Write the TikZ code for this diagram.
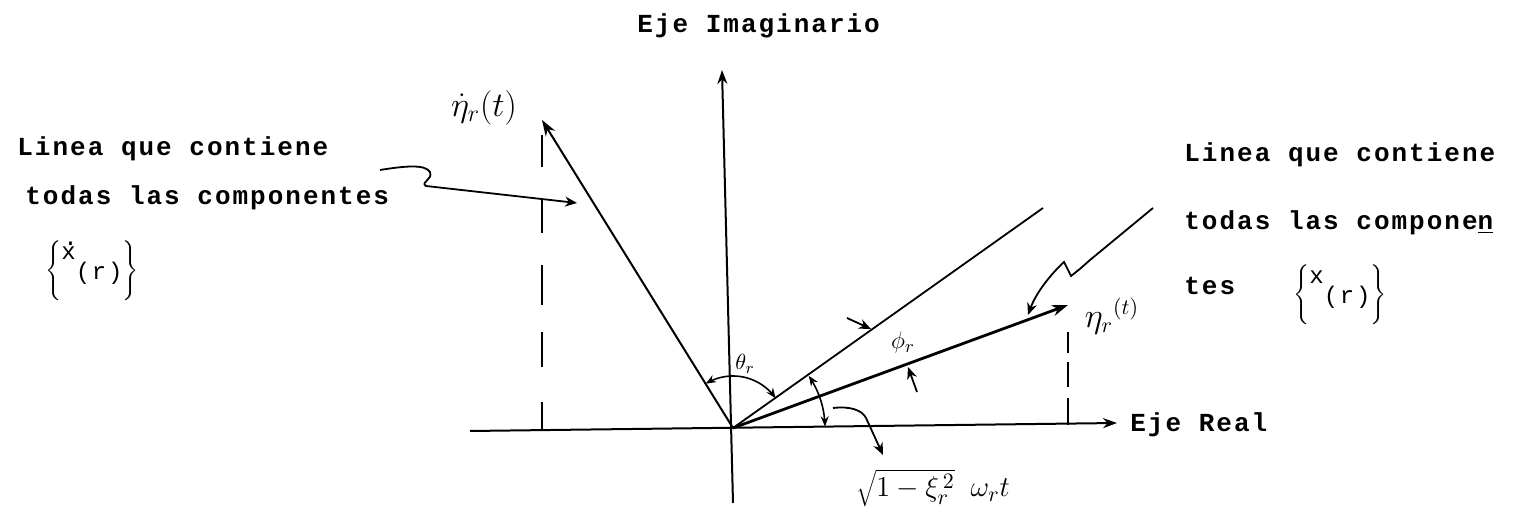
\documentclass[tikz,border=0pt]{standalone}
\usepackage{fontspec}
\setmonofont{Liberation Mono}
\newfontfamily\tw[LetterSpace=7.7]{Liberation Mono}
\usetikzlibrary{arrows.meta}
\newcommand\compset[1]{$\Bigg\{$\raisebox{8pt}{\tw\fontsize{12pt}{14pt}\selectfont #1}\raisebox{-2pt}{\tw\fontsize{12pt}{14pt}\selectfont(r)}$\Bigg\}$}
\begin{document}
\begin{tikzpicture}[x=0.5pt,y=-0.5pt,
  tw/.style={font=\tw\bfseries\fontsize{13pt}{15pt}\selectfont, anchor=base west, inner sep=0pt},
  hand/.style={font=\fontsize{18pt}{20pt}\selectfont, inner sep=0pt},
  axisline/.style={line width=1pt, -{Stealth[length=7pt,width=5pt]}},
  ray/.style={line width=0.9pt},
  vec/.style={line width=1pt, -{Stealth[length=8pt,width=5.5pt]}},
  proj/.style={line width=1.1pt},
  pointer/.style={line width=0.9pt, -{Stealth[length=6pt,width=5pt]}},
  angarrow/.style={line width=0.8pt, {Stealth[length=5pt,width=4pt]}-{Stealth[length=5pt,width=4pt]}},
]
\useasboundingbox (0,0) rectangle (1515,517);
% key points
\coordinate (O) at (733,428);
\coordinate (Xl) at (470,431);
\coordinate (Xr) at (1117,423);
\coordinate (Yb) at (733,503);
\coordinate (Yt) at (722,70);
\coordinate (A) at (542,120);
\coordinate (B) at (1068,305);
\coordinate (C) at (1043,208);
% axes
\draw[axisline] (Xl) -- (Xr);
\draw[axisline] (Yb) -- (Yt);
% rays and vectors
\draw[ray] (O) -- (C);
\draw[vec] (O) -- (A);
\draw[vec, line width=1.4pt] (O) -- (B);
% projection dashes
\draw[proj] (542,135)--(542,167) (542,198)--(542,233) (542,265)--(542,305) (542,332)--(542,367) (542,402)--(542,431);
\draw[proj] (1068,332)--(1068,353) (1068,362)--(1068,387) (1068,398)--(1068,425);
% angle markers
\draw[angarrow, shift={(O)}] plot[domain=-35:-121.5, samples=25, smooth] (\x:52);
\draw[angarrow, shift={(O)}] plot[domain=-34.5:-1, samples=20, smooth] (\x:92);
\draw[pointer] (847,318) -- (871,329);
\draw[pointer] (917,392) -- (908,367);
% text
\node[tw] (eim) at (637,33) {Eje Imaginario};
\node[tw] (ere) at (1130,432) {Eje Real};
\node[tw] (l1) at (17,156) {Linea que contiene};
\node[tw] (l2) at (25,205) {todas las componentes};
\node[inner sep=0pt] (lx) at (92,271) {\compset{\makebox[0pt][l]{\raisebox{7pt}{\kern1pt.}}x}};
\node[tw] (r1) at (1184,162) {Linea que contiene};
\node[tw] (r2) at (1184,230) {todas las compone\underline{n}};
\node[tw] (r3) at (1184,295) {tes};
\node[inner sep=0pt] (rx) at (1340,295) {\compset{x}};
% handwritten labels
\node[hand] (la) at (484,108) {$\dot\eta_r(t)$};
\node[hand, font=\fontsize{16pt}{18pt}\selectfont] (lb) at (1112,316) {$\eta_r{}^{(t)}$};
\node[hand, font=\fontsize{11pt}{13pt}\selectfont] (lth) at (745,364) {$\theta_r$};
\node[hand, font=\fontsize{13pt}{15pt}\selectfont] (lph) at (903,343) {$\phi_r$};
\node[hand, font=\fontsize{15pt}{17pt}\selectfont] (lw) at (933,488) {$\sqrt{1-\xi_r^{\,2}}\;\;\omega_r t$};
% pointers
\coordinate (p1) at (380,170);
\coordinate (p1e) at (577,203);
\draw[pointer] (p1) .. controls (405,166) and (425,164) .. (430,172) .. controls (433,180) and (420,182) .. (426,186) -- (p1e);
\coordinate (p2) at (1153,208);
\coordinate (p2e) at (1028,315);
\draw[pointer] (p2) -- (1090,260) -- (1081,268) -- (1071,276) -- (1064,262) .. controls (1050,275) and (1036,293) .. (p2e);
\coordinate (p3) at (833,408);
\coordinate (p3e) at (883,455);
\draw[pointer] (p3) .. controls (850,406) and (862,410) .. (866,418) -- (p3e);
\end{tikzpicture}
\end{document}
